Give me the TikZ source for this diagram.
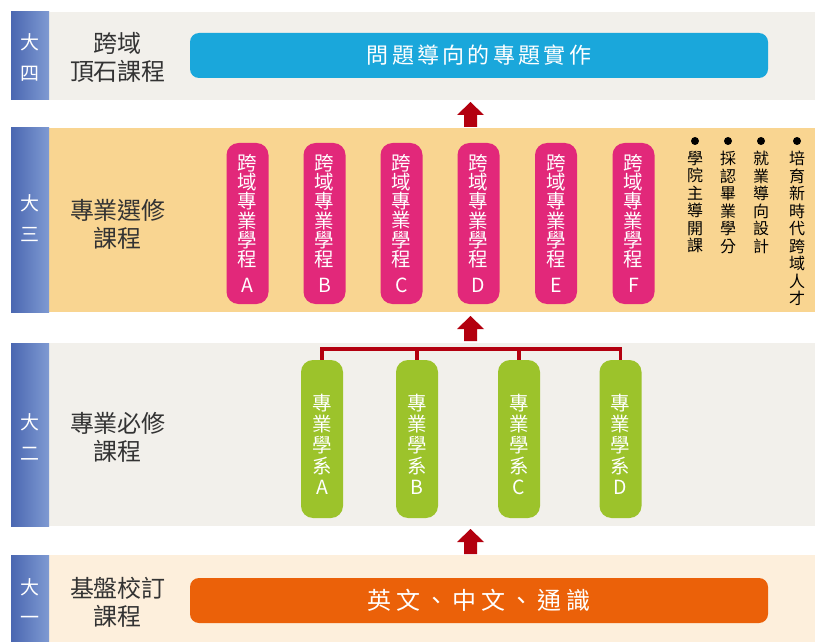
\documentclass[tikz,border=0pt]{standalone}
\usepackage{fontspec}
\setmainfont{Noto Sans CJK TC}
\newfontfamily\cjkwide[LetterSpace=15]{Noto Sans CJK TC}
\newfontfamily\cjkwider[LetterSpace=18]{Noto Sans CJK TC}
\definecolor{grayband}{HTML}{F2F0EB}
\definecolor{orangeband}{HTML}{F9D591}
\definecolor{peachband}{HTML}{FDEFDC}
\definecolor{bardark}{HTML}{4A67B1}
\definecolor{barlight}{HTML}{7F9AD2}
\definecolor{pillblue}{HTML}{1AA7DB}
\definecolor{pillpink}{HTML}{E2287A}
\definecolor{pillgreen}{HTML}{9CC32B}
\definecolor{pillorange}{HTML}{EB6109}
\definecolor{arrred}{HTML}{B3000F}
\definecolor{labeltext}{HTML}{333333}
\tikzset{
  band/.style={rectangle, draw=none, inner sep=0pt, minimum width=804pt},
  yearbar/.style={rectangle, draw=none, inner sep=0pt, minimum width=38pt, left color=bardark, right color=barlight},
  bartext/.style={text=white, align=center, inner sep=0pt, font=\fontsize{19}{30.5}\selectfont},
  stagelabel/.style={text=labeltext, align=center, inner sep=0pt, font=\fontsize{24}{28}\selectfont},
  widepill/.style={rectangle, rounded corners=9pt, draw=none, minimum width=578pt, minimum height=45pt, inner sep=0pt, text=white},
  pinkpill/.style={rectangle, rounded corners=12pt, fill=pillpink, draw=none, minimum width=42pt, minimum height=161pt, inner sep=0pt, text=white, align=center, font=\fontsize{19.5}{19.2}\selectfont},
  greenpill/.style={rectangle, rounded corners=12pt, fill=pillgreen, draw=none, minimum width=42pt, minimum height=158pt, inner sep=0pt},
  greentext/.style={text=white, align=center, inner sep=0pt, font=\fontsize{19.5}{21}\selectfont},
  bulletdot/.style={circle, fill=black, draw=none, inner sep=0pt, minimum size=8pt},
  bullettext/.style={text=black, align=center, inner sep=0pt, anchor=north, font=\fontsize{16}{17.5}\selectfont},
  tree/.style={draw=arrred, line width=3.5pt},
  uparrow/.pic={\fill[arrred] (0,0) -- (13.5,13) -- (6.5,13) -- (6.5,25) -- (-6.5,25) -- (-6.5,13) -- (-13.5,13) -- cycle;}
}
\begin{document}
\begin{tikzpicture}[x=1pt,y=-1pt]
\useasboundingbox (0,0) rectangle (815,642);
\fill[white] (0,0) rectangle (815,642);

% bands
\node[band, fill=grayband,   minimum height=88pt]  (band4) at (413,56) {};
\node[band, fill=orangeband, minimum height=184pt] (band3) at (413,220) {};
\node[band, fill=grayband,   minimum height=183pt] (band2) at (413,434.5) {};
\node[band, fill=peachband,  minimum height=87pt]  (band1) at (413,598.5) {};

% year bars
\node[yearbar, minimum height=88pt]  (bar4) at (30,56) {};
\node[yearbar, minimum height=184pt] (bar3) at (30,220) {};
\node[yearbar, minimum height=183pt] (bar2) at (30,434.5) {};
\node[yearbar, minimum height=87pt]  (bar1) at (30,598.5) {};
\node[bartext] (y4) at (30,57.5) {大\\四};
\node[bartext] (y3) at (30,218) {大\\三};
\node[bartext] (y2) at (30,437) {大\\二};
\node[bartext] (y1) at (30,601.5) {大\\一};

% stage labels
\node[stagelabel] (l4) at (118,57) {跨域\\頂石課程};
\node[stagelabel] (l3) at (118,224.5) {專業選修\\課程};
\node[stagelabel] (l2) at (118,437.5) {專業必修\\課程};
\node[stagelabel] (l1) at (118,602) {基盤校訂\\課程};

% wide pills
\node[widepill, fill=pillblue, font=\fontsize{22}{26}\cjkwide] (capstone) at (479,55.5) {問題導向的專題實作};
\node[widepill, fill=pillorange, font=\fontsize{24}{26}\cjkwider] (base) at (479,600.5) {英文、中文、通識};

% pink pills
\node[pinkpill] (pA) at (247.5,223.5) {跨\\域\\專\\業\\學\\程\\[7pt]A};
\node[pinkpill] (pB) at (324.5,223.5) {跨\\域\\專\\業\\學\\程\\[7pt]B};
\node[pinkpill] (pC) at (401.5,223.5) {跨\\域\\專\\業\\學\\程\\[7pt]C};
\node[pinkpill] (pD) at (478.5,223.5) {跨\\域\\專\\業\\學\\程\\[7pt]D};
\node[pinkpill] (pE) at (556,223.5) {跨\\域\\專\\業\\學\\程\\[7pt]E};
\node[pinkpill] (pF) at (633.5,223.5) {跨\\域\\專\\業\\學\\程\\[7pt]F};

% bullet columns
\node[bulletdot] (d1) at (695,141) {};
\node[bulletdot] (d2) at (728,141) {};
\node[bulletdot] (d3) at (761,141) {};
\node[bulletdot] (d4) at (797,141) {};
\node[bullettext] (c1) at (695,151) {學\\院\\主\\導\\開\\課};
\node[bullettext] (c2) at (728,151) {採\\認\\畢\\業\\學\\分};
\node[bullettext] (c3) at (761,151) {就\\業\\導\\向\\設\\計};
\node[bullettext] (c4) at (797,151) {培\\育\\新\\時\\代\\跨\\域\\人\\才};

% green pills
\node[greenpill] (gA) at (322,439) {};
\node[greenpill] (gB) at (417,439) {};
\node[greenpill] (gC) at (519,439) {};
\node[greenpill] (gD) at (620.5,439) {};
\node[greentext] (tA) at ([yshift=-5.5pt]gA.center) {專\\業\\學\\系\\A};
\node[greentext] (tB) at ([yshift=-5.5pt]gB.center) {專\\業\\學\\系\\B};
\node[greentext] (tC) at ([yshift=-5.5pt]gC.center) {專\\業\\學\\系\\C};
\node[greentext] (tD) at ([yshift=-5.5pt]gD.center) {專\\業\\學\\系\\D};

% tree connector
\coordinate (bus) at (0,349);
\draw[tree] (gA.north) -- (gA.north |- bus) -- (gD.north |- bus) -- (gD.north);
\draw[tree] (gB.north) -- (gB.north |- bus);
\draw[tree] (gC.north) -- (gC.north |- bus);

% block arrows
\coordinate (a1) at (470.5,102);
\coordinate (a2) at (470.5,316);
\coordinate (a3) at (470.5,529);
\pic at (a1) {uparrow};
\pic at (a2) {uparrow};
\pic at (a3) {uparrow};
\end{tikzpicture}
\end{document}
